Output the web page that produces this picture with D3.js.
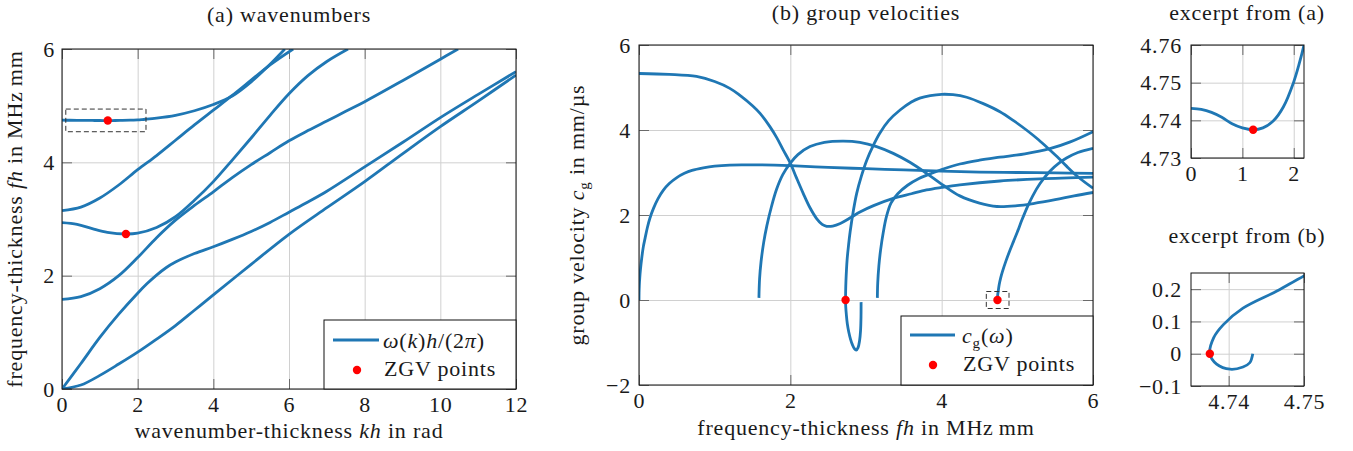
<!DOCTYPE html>
<html>
<head>
<meta charset="utf-8">
<script src="https://cdn.jsdelivr.net/npm/d3@7"></script>
<style>
body { margin: 0; background: #fff; }
text { font-family: "Liberation Serif", "Times New Roman", serif; font-size: 22px; fill: #1a1a1a; letter-spacing: 0.8px; }
</style>
</head>
<body>
<svg id="chart" width="1353" height="451"></svg>
<script>
// ---- data ----
// (a) wavenumbers: [kh, fh]
var waveA0 = [[0,0],[0.5,0.07],[1,0.24],[1.5,0.44],[2,0.65],[2.5,0.88],[3,1.12],[3.5,1.39],[4,1.66],[5,2.2],[6,2.73],[7,3.2],[8,3.66],[9,4.15],[10,4.63],[11,5.08],[12,5.54]]
var waveS0 = [[0,0],[0.5,0.45],[1,0.91],[1.5,1.32],[2,1.69],[2.25,1.86],[2.5,2.01],[2.75,2.14],[3,2.24],[3.5,2.39],[4,2.51],[4.5,2.64],[5,2.78],[5.5,2.94],[6,3.12],[6.5,3.3],[7,3.49],[8,3.92],[9,4.35],[10,4.79],[11,5.2],[12,5.6]]
var waveA1 = [[0,1.58],[0.5,1.63],[1,1.77],[1.5,2.0],[2,2.32],[2.5,2.67],[3,2.98],[3.5,3.24],[4,3.48],[4.5,3.73],[5,3.96],[5.5,4.17],[6,4.38],[6.5,4.56],[7,4.73],[7.5,4.9],[8,5.07],[9,5.44],[10,5.82],[10.47,6.0]]
var waveS1 = [[0,2.935],[0.4,2.905],[0.8,2.83],[1.2,2.765],[1.69,2.735],[2,2.75],[2.5,2.85],[3,3.04],[3.5,3.33],[4,3.66],[4.5,4.04],[5,4.43],[5.5,4.83],[6,5.21],[6.5,5.53],[7,5.78],[7.56,6.0]]
var waveA2 = [[0,3.146],[0.5,3.21],[1,3.37],[1.5,3.6],[2,3.87],[2.5,4.12],[3,4.39],[3.5,4.66],[4,4.92],[4.5,5.18],[5,5.45],[5.5,5.72],[6.11,6.0]]
var waveS2 = [[0,4.7432],[0.2,4.7429],[0.4,4.7421],[0.6,4.7408],[0.8,4.7391],[1.0,4.738],[1.21,4.7375],[1.4,4.738],[1.6,4.7398],[1.8,4.7436],[2.0,4.7502],[2.1,4.7547],[2.2,4.76],[2.5,4.78],[3,4.83],[3.5,4.91],[4,5.02],[4.5,5.17],[5,5.42],[5.5,5.73],[5.89,6.0]]
var zgvWave = [[1.21,4.7375],[1.69,2.735]]

// (b) group velocities: [fh, cg]
var velA0 = [[0,0],[0.001,0.17],[0.004,0.33],[0.01,0.52],[0.02,0.73],[0.035,0.97],[0.057,1.25],[0.08,1.45],[0.11,1.7],[0.145,1.93],[0.19,2.15],[0.25,2.38],[0.32,2.58],[0.4,2.74],[0.5,2.88],[0.6,2.98],[0.7,3.05],[0.85,3.11],[1,3.15],[1.2,3.175],[1.4,3.18],[1.6,3.18],[2,3.16],[2.5,3.12],[3,3.09],[3.5,3.06],[4,3.03],[4.5,3.01],[5,3.0],[5.5,2.99],[6,2.98]]
var velS0 = [[0,5.33],[0.4,5.31],[0.76,5.26],[1,5.14],[1.2,4.98],[1.33,4.82],[1.5,4.57],[1.6,4.39],[1.73,4.08],[1.82,3.82],[1.9,3.55],[2,3.22],[2.08,2.88],[2.17,2.51],[2.26,2.17],[2.35,1.91],[2.42,1.78],[2.48,1.735],[2.56,1.74],[2.66,1.8],[2.8,1.94],[2.92,2.07],[3.1,2.22],[3.36,2.39],[3.6,2.5],[3.8,2.59],[4,2.65],[4.24,2.71],[4.77,2.8],[5.3,2.85],[6,2.89]]
var velA1 = [[1.585,0.05],[1.5936,0.5],[1.613,0.9],[1.6475,1.35],[1.69,1.75],[1.751,2.2],[1.817,2.6],[1.9,2.95],[2,3.22],[2.1,3.42],[2.26,3.61],[2.45,3.71],[2.7,3.74],[2.92,3.71],[3.14,3.61],[3.36,3.45],[3.58,3.24],[3.8,2.98],[4.02,2.7],[4.24,2.45],[4.5,2.28],[4.73,2.2],[5,2.22],[5.21,2.27],[5.5,2.36],[5.75,2.45],[6,2.53]]
var velS1 = [[2.935,-0.05],[2.934,-0.4],[2.928,-0.72],[2.915,-0.96],[2.895,-1.12],[2.87,-1.18],[2.845,-1.14],[2.82,-1.05],[2.795,-0.92],[2.773,-0.76],[2.753,-0.56],[2.74,-0.34],[2.732,-0.15],[2.73,0],[2.731,0.2],[2.735,0.45],[2.75,0.94],[2.77,1.3],[2.79,1.6],[2.833,2.1],[2.877,2.51],[2.94,2.92],[3.01,3.29],[3.1,3.65],[3.18,3.92],[3.3,4.22],[3.45,4.47],[3.6,4.66],[3.71,4.75],[3.85,4.81],[4,4.84],[4.15,4.83],[4.33,4.77],[4.55,4.62],[4.77,4.43],[4.95,4.22],[5.12,4.0],[5.28,3.77],[5.43,3.53],[5.55,3.33],[5.65,3.15],[5.8,2.9],[6,2.63]]
var velA2 = [[3.15,0.05],[3.155,0.4],[3.17,0.8],[3.193,1.18],[3.229,1.6],[3.27,1.96],[3.33,2.28],[3.42,2.5],[3.55,2.7],[3.7,2.86],[3.85,2.97],[4,3.07],[4.24,3.2],[4.5,3.29],[4.77,3.36],[5.1,3.44],[5.43,3.56],[5.7,3.72],[6,3.96]]
var velS2 = [[4.7432,0],[4.7428,-0.028],[4.7419,-0.041],[4.7402,-0.048],[4.7384,-0.032],[4.7375,0],[4.738,0.049],[4.7393,0.09],[4.7419,0.141],[4.7464,0.194],[4.75,0.241],[4.76,0.36],[4.78,0.52],[4.8,0.65],[4.85,0.92],[4.9,1.16],[4.95,1.38],[5,1.6],[5.06,1.88],[5.13,2.18],[5.2,2.44],[5.3,2.74],[5.43,3.03],[5.55,3.22],[5.65,3.34],[5.8,3.47],[6,3.57]]
var zgvVel = [[2.73,0],[4.7375,0]]

// ticks
var khTicks = [0,2,4,6,8,10,12], fhTicksA = [0,2,4,6]
var fhTicksB = [0,2,4,6], cgTicksB = [-2,0,2,4,6]
var khTicksEx = [0,1,2], fhTicksEx = [4.73,4.74,4.75,4.76]
var fhTicksExB = [4.74,4.75], cgTicksExB = [-0.1,0,0.1,0.2]

// excerpt boxes drawn in (a) and (b)
var boxA = [[0.1,2.22],[4.54,4.94]]
var boxB = [[4.59,4.89],[-0.2,0.2]]

var svg = d3.select("#chart")
var blue = "#1f77b4", red = "#ff0000", gridColor = "#d0d0d0", tickColor = "#6a6a6a"
var fmt = d => String(d).replace("-", "\u2212")
var defs = svg.append("defs")
var clipId = 0

function strip(color, keepText) {
    return s => {
        s.select(".domain").remove()
        s.selectAll(".tick line").attr("stroke", color)
        if (!keepText) s.selectAll("text").remove()
    }
}

function buildPanel(o) {
    var x = d3.scaleLinear().domain(o.xDomain).range([o.left, o.right])
    var y = d3.scaleLinear().domain(o.yDomain).range([o.bottom, o.top])
    var w = o.right - o.left, h = o.bottom - o.top
    var g = svg.append("g")

    // grid
    g.append("g").attr("transform", "translate(0," + o.bottom + ")")
        .call(d3.axisBottom(x).tickValues(o.xTicks).tickSize(-h).tickFormat(""))
        .call(strip(gridColor))
    g.append("g").attr("transform", "translate(" + o.left + ",0)")
        .call(d3.axisLeft(y).tickValues(o.yTicks).tickSize(-w).tickFormat(""))
        .call(strip(gridColor))

    // inner ticks on all four sides
    g.append("g").attr("transform", "translate(0," + o.bottom + ")")
        .call(d3.axisBottom(x).tickValues(o.xTicks).tickSize(-10).tickFormat("")).call(strip(tickColor))
    g.append("g").attr("transform", "translate(0," + o.top + ")")
        .call(d3.axisTop(x).tickValues(o.xTicks).tickSize(-10).tickFormat("")).call(strip(tickColor))
    g.append("g").attr("transform", "translate(" + o.left + ",0)")
        .call(d3.axisLeft(y).tickValues(o.yTicks).tickSize(-10).tickFormat("")).call(strip(tickColor))
    g.append("g").attr("transform", "translate(" + o.right + ",0)")
        .call(d3.axisRight(y).tickValues(o.yTicks).tickSize(-10).tickFormat("")).call(strip(tickColor))

    // tick labels
    g.append("g").attr("transform", "translate(0," + o.bottom + ")")
        .call(d3.axisBottom(x).tickValues(o.xTicks).tickSize(0).tickPadding(7).tickFormat(fmt))
        .call(strip("none", true))
    g.append("g").attr("transform", "translate(" + o.left + ",0)")
        .call(d3.axisLeft(y).tickValues(o.yTicks).tickSize(0).tickPadding(o.yPad || 7).tickFormat(fmt))
        .call(strip("none", true))

    var id = "clip" + (clipId++)
    defs.append("clipPath").attr("id", id).append("rect")
        .attr("x", o.left).attr("y", o.top).attr("width", w).attr("height", h)

    var line = d3.line().x(d => x(d[0])).y(d => y(d[1])).curve(d3.curveCatmullRom.alpha(0.5))
    var curves = g.append("g").attr("clip-path", "url(#" + id + ")")
    o.curves.forEach(c => {
        curves.append("path").attr("d", line(c))
            .attr("fill", "none").attr("stroke", blue).attr("stroke-width", 2.8)
            .attr("stroke-linejoin", "round")
    })
    if (o.box) {
        g.append("rect")
            .attr("x", x(o.box[0][0])).attr("y", y(o.box[1][1]))
            .attr("width", x(o.box[0][1]) - x(o.box[0][0]))
            .attr("height", y(o.box[1][0]) - y(o.box[1][1]))
            .attr("fill", "none").attr("stroke", "#333").attr("stroke-width", 1)
            .attr("stroke-dasharray", "5,3")
    }
    g.selectAll(".zgv").data(o.dots).enter().append("circle")
        .attr("cx", d => x(d[0])).attr("cy", d => y(d[1])).attr("r", 4.2).attr("fill", red)

    g.append("rect").attr("x", o.left).attr("y", o.top).attr("width", w).attr("height", h)
        .attr("fill", "none").attr("stroke", "#111").attr("stroke-width", 1)
    return g
}

// rich text with italics and subscripts
function rich(sel, parts) {
    var shift = 0
    parts.forEach(p => {
        var t = sel.append("tspan").text(p[0])
        var dy = 0
        if (p[1] == "i") t.attr("font-style", "italic")
        if (p[1] == "sub") { t.style("font-size", "15px"); dy = 5 }
        if (dy - shift != 0) t.attr("dy", dy - shift)
        shift = dy
    })
    return sel
}

function legend(g, o, label) {
    g.append("rect").attr("x", o.x0).attr("y", o.y0).attr("width", o.x1 - o.x0).attr("height", o.y1 - o.y0)
        .attr("fill", "#fff").attr("stroke", "#111").attr("stroke-width", 1)
    g.append("line").attr("x1", o.lx0).attr("x2", o.lx1).attr("y1", o.ly).attr("y2", o.ly)
        .attr("stroke", blue).attr("stroke-width", 2.8)
    rich(g.append("text").attr("x", o.tx).attr("y", o.ty1), label)
    g.append("circle").attr("cx", o.dx).attr("cy", o.dy).attr("r", 4.2).attr("fill", red)
    g.append("text").attr("x", o.tx + 1).attr("y", o.ty2).text("ZGV points")
}

// (a)
var ga = buildPanel({
    left: 62, right: 516, top: 49, bottom: 389,
    xDomain: [0, 12], yDomain: [0, 6], xTicks: khTicks, yTicks: fhTicksA,
    curves: [waveA0, waveS0, waveA1, waveS1, waveA2, waveS2], dots: zgvWave, box: boxA
})
legend(ga, {x0: 324, x1: 516, y0: 320, y1: 389, lx0: 333, lx1: 379, ly: 340, tx: 383, ty1: 348, ty2: 376, dx: 357, dy: 370},
    [["\u03c9", "i"], ["("], ["k", "i"], [")"], ["h", "i"], ["/(2"], ["\u03c0", "i"], [")"]])

// (b)
var gb = buildPanel({
    left: 639, right: 1093, top: 45, bottom: 385,
    xDomain: [0, 6], yDomain: [-2, 6], xTicks: fhTicksB, yTicks: cgTicksB, yPad: 8,
    curves: [velA0, velS0, velA1, velS1, velA2, velS2], dots: zgvVel, box: boxB
})
legend(gb, {x0: 901, x1: 1093, y0: 316, y1: 385, lx0: 910, lx1: 955, ly: 335, tx: 962, ty1: 343, ty2: 371, dx: 933, dy: 365},
    [["c", "i"], ["g", "sub"], ["("], ["\u03c9", "i"], [")"]])

// excerpt from (a)
buildPanel({
    left: 1191, right: 1304, top: 45, bottom: 158,
    xDomain: [0, 2.2], yDomain: [4.73, 4.76], xTicks: khTicksEx, yTicks: fhTicksEx, yPad: 9,
    curves: [waveS2], dots: [zgvWave[0]]
})

// excerpt from (b)
buildPanel({
    left: 1191, right: 1304, top: 273, bottom: 386,
    xDomain: [4.735, 4.75], yDomain: [-0.1, 0.25], xTicks: fhTicksExB, yTicks: cgTicksExB, yPad: 9,
    curves: [velS2], dots: [zgvVel[1]]
})

// titles and axis labels
svg.append("text").attr("x", 289).attr("y", 22).attr("text-anchor", "middle").text("(a) wavenumbers")
svg.append("text").attr("x", 866).attr("y", 20).attr("text-anchor", "middle").text("(b) group velocities")
svg.append("text").attr("x", 1247).attr("y", 20).attr("text-anchor", "middle").text("excerpt from (a)")
svg.append("text").attr("x", 1247).attr("y", 243).attr("text-anchor", "middle").text("excerpt from (b)")

rich(svg.append("text").attr("x", 289).attr("y", 438).attr("text-anchor", "middle"),
    [["wavenumber-thickness "], ["kh", "i"], [" in rad"]])
rich(svg.append("text").attr("x", 866).attr("y", 435).attr("text-anchor", "middle"),
    [["frequency-thickness "], ["fh", "i"], [" in MHz\u2009mm"]])
rich(svg.append("text").attr("transform", "translate(22,219) rotate(-90)").attr("text-anchor", "middle"),
    [["frequency-thickness "], ["fh", "i"], [" in MHz\u2009mm"]])
rich(svg.append("text").attr("transform", "translate(584,215) rotate(-90)").attr("text-anchor", "middle"),
    [["group velocity "], ["c", "i"], ["g", "sub"], [" in mm/\u00b5s"]])
</script>
</body>
</html>
